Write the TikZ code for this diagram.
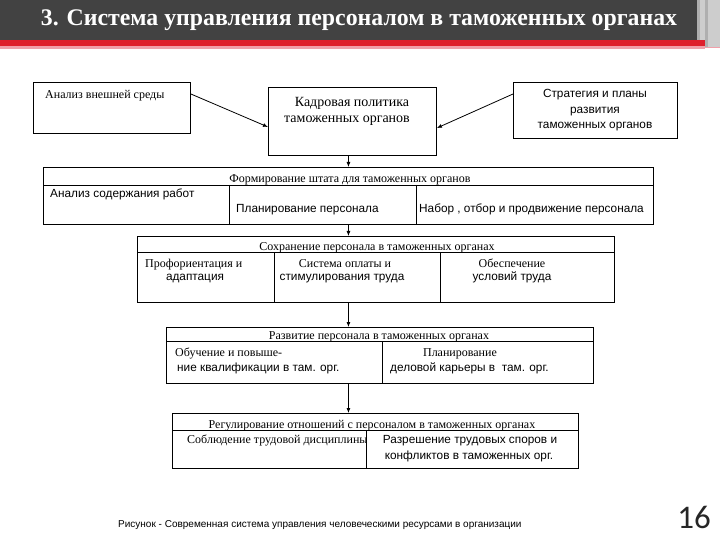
\documentclass[tikz,border=0pt]{standalone}
\usepackage{fontspec}
\setmainfont{Liberation Serif}
\setsansfont{Liberation Sans}
\newfontfamily\pagefont{Carlito}
\usetikzlibrary{positioning,arrows.meta}

\definecolor{bandgray}{RGB}{66,66,66}
\definecolor{bandred}{RGB}{222,32,44}
\definecolor{bandpink}{RGB}{240,160,170}
\definecolor{stripgray}{RGB}{175,175,175}
\definecolor{stripgrayl}{RGB}{205,205,205}

\tikzset{
  frame/.style={draw, line width=0.9pt, anchor=north west, inner sep=0pt},
  rule/.style={line width=0.8pt},
  arr/.style={line width=0.8pt, -{Latex[length=5pt,width=4pt]}},
  serif/.style={font=\fontsize{12}{13}\selectfont\rmfamily, inner sep=0pt, anchor=base},
  sans/.style={font=\fontsize{11.8}{13}\selectfont\sffamily, inner sep=0pt, anchor=base},
  head/.style={font=\fontsize{12}{13}\selectfont\rmfamily, inner sep=0pt, anchor=base}
}

\begin{document}
\begin{tikzpicture}[x=1pt,y=-1pt]
  \useasboundingbox (0,0) rectangle (720,540);
  % title band
  \fill[bandgray] (0,0) rectangle (697,40);
  \fill[stripgray] (697,0) rectangle (700,48);
  \fill[stripgrayl] (700,0) rectangle (705,48);
  \fill[stripgray] (705,0) rectangle (708,48);
  \fill[stripgrayl] (708,0) rectangle (720,48);
  \fill[bandpink] (0,45) rectangle (705,49);
  \fill[bandred] (0,40) rectangle (705,46);
  \fill[bandpink] (705,47) rectangle (720,48.5);
  \node[font=\fontsize{23.8}{26}\selectfont\bfseries\rmfamily, text=white, inner sep=0pt]
    (title) at (359,20) {3. Система управления персоналом в таможенных органах};

  % top row
  \node[frame, minimum width=157pt, minimum height=51pt] (env) at (33,82) {};
  \node[frame, minimum width=168pt, minimum height=68pt] (pol) at (268,87) {};
  \node[frame, minimum width=164pt, minimum height=56pt] (strat) at (513,82) {};
  \node[serif, anchor=base west] (envtxt) at (45,99) {Анализ внешней среды};
  \node[serif, font=\fontsize{14}{15}\selectfont\rmfamily] (poltxta) at (352,107) {Кадровая политика};
  \node[serif, font=\fontsize{14}{15}\selectfont\rmfamily] (poltxtb) at (347,123) {таможенных органов};
  \node[sans] (strattxta) at (595,98) {Стратегия и планы};
  \node[sans] (strattxtb) at (595,114) {развития};
  \node[sans] (strattxtc) at (595,129) {таможенных органов};

  % staffing
  \node[frame, minimum width=610pt, minimum height=57pt] (form) at (43,167) {};
  \draw[rule] (form.west |- 0,185) -- (form.east |- 0,185);
  \draw[rule] (229,185) -- (229,224);
  \draw[rule] (416,185) -- (416,224);
  \node[head] (formhead) at (350,183) {Формирование штата для таможенных органов};
  \node[sans, anchor=base west] (formtxta) at (50,197) {Анализ содержания работ};
  \node[sans, anchor=base west] (formtxtb) at (236,212) {Планирование персонала};
  \node[sans, anchor=base west] (formtxtc) at (419,212) {Набор , отбор и продвижение персонала};

  % retention
  \node[frame, minimum width=477pt, minimum height=66pt] (keep) at (137,236) {};
  \draw[rule] (keep.west |- 0,252) -- (keep.east |- 0,252);
  \draw[rule] (274,252) -- (274,302);
  \draw[rule] (440,252) -- (440,302);
  \node[head] (keephead) at (377,250) {Сохранение персонала в таможенных органах};
  \node[serif, anchor=base west] (keeptxta) at (145,267) {Профориентация и};
  \node[sans] (keeptxtb) at (195,280) {адаптация};
  \node[serif] (keeptxtc) at (345,267) {Система оплаты и};
  \node[sans] (keeptxtd) at (342,280) {стимулирования труда};
  \node[serif] (keeptxte) at (512,267) {Обеспечение};
  \node[sans] (keeptxtf) at (512,280) {условий труда};

  % development
  \node[frame, minimum width=427pt, minimum height=56pt] (dev) at (166,327) {};
  \draw[rule] (dev.west |- 0,341) -- (dev.east |- 0,341);
  \draw[rule] (382,341) -- (382,383);
  \node[head] (devhead) at (379,339) {Развитие персонала в таможенных органах};
  \node[serif, anchor=base west] (devtxta) at (175,356) {Обучение и повыше-};
  \node[sans, anchor=base west] (devtxtb) at (177,371) {ние квалификации в там. орг.};
  \node[serif] (devtxtc) at (460,356) {Планирование};
  \node[sans, anchor=base west] (devtxtd) at (390,371) {деловой карьеры в\ \ там. орг.};

  % relations
  \node[frame, minimum width=406pt, minimum height=55pt] (reg) at (172,413) {};
  \draw[rule] (reg.west |- 0,430) -- (reg.east |- 0,430);
  \draw[rule] (366,430) -- (366,468);
  \node[head] (reghead) at (372,428) {Регулирование отношений с персоналом в таможенных органах};
  \node[serif, anchor=base west] (regtxta) at (187,443) {Соблюдение трудовой дисциплины};
  \node[sans] (regtxtb) at (470,443) {Разрешение трудовых споров и};
  \node[sans] (regtxtc) at (469,459) {конфликтов в таможенных орг.};

  % arrows
  \draw[arr] ([yshift=-12pt]env.north east) -- ([yshift=-40pt]pol.north west);
  \draw[arr] ([yshift=-12pt]strat.north west) -- ([yshift=-41pt]pol.north east);
  \draw[arr] (pol.south -| form.north) -- (form.north);
  \draw[arr] (form.south) -- (form.south |- keep.north);
  \draw[arr] (keep.south -| form.south) -- (form.south |- dev.north);
  \draw[arr] (dev.south -| form.south) -- (form.south |- reg.north);

  % caption and page number
  \node[font=\fontsize{10}{11}\selectfont\sffamily, inner sep=0pt, anchor=base west]
    (caption) at (118,527) {Рисунок - Современная система управления человеческими ресурсами в организации};
  \node[font=\fontsize{33}{35}\selectfont\pagefont, text=black!85, inner sep=0pt, anchor=base east]
    (pagenum) at (711,528) {16};
\end{tikzpicture}
\end{document}
